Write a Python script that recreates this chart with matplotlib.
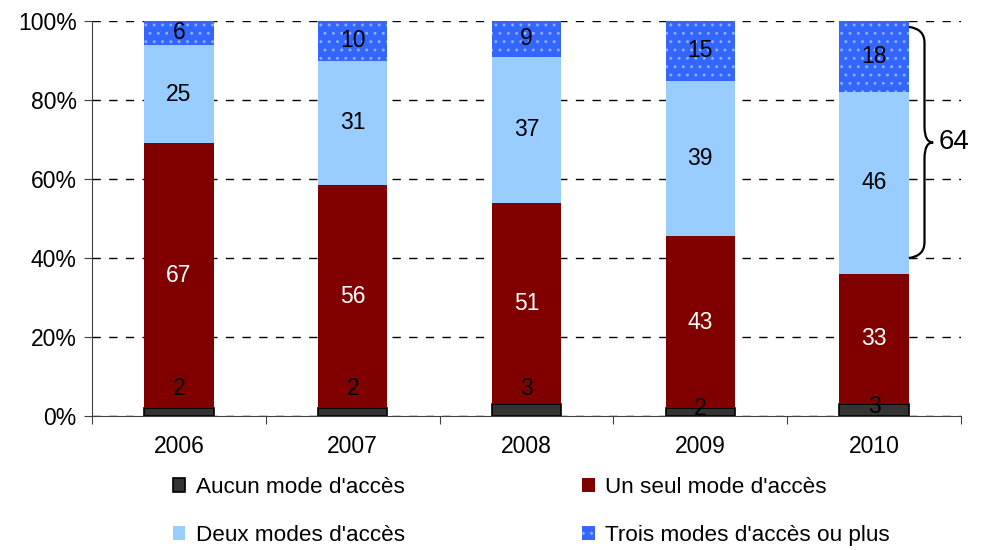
import numpy as np
import matplotlib.pyplot as plt
from matplotlib.path import Path
from matplotlib.patches import PathPatch

years = ['2006', '2007', '2008', '2009', '2010']
aucun = [2, 2, 3, 2, 3]
un_seul = [67, 56, 51, 43, 33]
deux = [25, 31, 37, 39, 46]
trois = [6, 10, 9, 15, 18]
labels = ["Aucun mode d'accès", "Un seul mode d'accès",
          "Deux modes d'accès", "Trois modes d'accès ou plus"]
brace_text = '64'

plt.rcParams['font.family'] = ['Liberation Sans', 'DejaVu Sans']
plt.rcParams['hatch.linewidth'] = 0.9

series = np.array([aucun, un_seul, deux, trois], dtype=float)
# the printed values are rounded, stretch each bar to 100%
pct = series / series.sum(axis=0) * 100

colors = ['#333333', '#800000', '#99ccff', '#3366ff']
txt_colors = ['black', 'white', 'black', 'black']
fs = 16.5

fig = plt.figure(figsize=(9.81, 5.5), dpi=100)
ax = fig.add_axes([92 / 981, 134 / 550, 869 / 981, 395 / 550])

x = np.arange(len(years))
w = 0.4
bottom = np.zeros(len(years))
handles = []
for i in range(4):
    if i == 0:
        b = ax.bar(x, pct[i], w, bottom=bottom, color=colors[i],
                   edgecolor='black', linewidth=1.2, zorder=3)
    elif i == 3:
        b = ax.bar(x, pct[i], w, bottom=bottom, color=colors[i],
                   edgecolor='#8fb0ff', linewidth=0, hatch='..', zorder=3)
    else:
        b = ax.bar(x, pct[i], w, bottom=bottom, color=colors[i],
                   linewidth=0, zorder=3)
    handles.append(b)
    for j in range(len(years)):
        if i == 0:
            # Excel pushed some of the small labels up into the red part
            yl = [7, 7, 7, 2, 2.5][j]
        else:
            yl = bottom[j] + pct[i][j] / 2
        ax.text(x[j], yl, str(int(series[i][j])), ha='center', va='center',
                fontsize=fs, color=txt_colors[i], zorder=4)
    bottom += pct[i]

# curly brace next to the last bar (40% -> 100%)
y0, y1 = 40, 98.5
ym = (y0 + y1) / 2
xb = x[-1] + w / 2
dx = 0.09
tip = 0.14
verts = [(xb, y1), (xb + dx, y1 - 0.5), (xb + dx, y1 - 4),
         (xb + dx, ym + 4), (xb + dx, ym), (xb + tip, ym),
         (xb + dx, ym), (xb + dx, ym - 4),
         (xb + dx, y0 + 4), (xb + dx, y0 + 0.5), (xb, y0)]
codes = [Path.MOVETO, Path.CURVE3, Path.CURVE3,
         Path.LINETO, Path.CURVE3, Path.CURVE3,
         Path.CURVE3, Path.CURVE3,
         Path.LINETO, Path.CURVE3, Path.CURVE3]
ax.add_patch(PathPatch(Path(verts, codes), fill=False, lw=1.6,
                       edgecolor='black', zorder=4, clip_on=False))
ax.text(xb + tip + 0.03, ym, brace_text, ha='left', va='center',
        fontsize=20, clip_on=False)

ax.set_xlim(-0.5, len(years) - 0.5)
ax.set_ylim(0, 100)
ax.set_yticks(np.arange(0, 101, 20))
ax.set_yticklabels([f'{v}%' for v in range(0, 101, 20)], fontsize=fs)
ax.set_xticks(np.arange(-0.5, len(years), 1))
ax.set_xticklabels([])
ax.set_xticks(x, minor=True)
ax.set_xticklabels(years, minor=True, fontsize=fs)
ax.tick_params(axis='x', which='minor', length=0, pad=14)
ax.tick_params(axis='x', which='major', length=6, direction='out', color='#404040')
ax.tick_params(axis='y', length=6, direction='out', color='#404040', pad=5)
ax.grid(axis='y', linestyle=(0, (6, 6)), color='black', linewidth=1, zorder=0)
for s in ['top', 'right']:
    ax.spines[s].set_visible(False)
for s in ['left', 'bottom']:
    ax.spines[s].set_color('#404040')
    ax.spines[s].set_zorder(5)

# legend fills column by column
fig.legend([handles[0], handles[2], handles[1], handles[3]],
           [labels[0], labels[2], labels[1], labels[3]],
           loc='upper left', bbox_to_anchor=(173 / 981, 1 - 477 / 550),
           ncol=2, frameon=False, fontsize=16.2, handlelength=0.55,
           handleheight=0.55, handletextpad=0.45, columnspacing=7.9,
           labelspacing=1.2, borderpad=0, borderaxespad=0)

fig.savefig('out.png', dpi=100)
